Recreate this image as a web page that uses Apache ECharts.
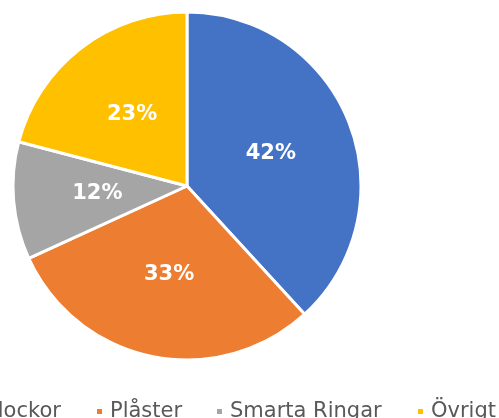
<!DOCTYPE html>
<html>
<head>
<meta charset="utf-8">
<script src="https://cdn.jsdelivr.net/npm/echarts@6/dist/echarts.min.js"></script>
<style>
  html, body { margin: 0; padding: 0; background: #fff; }
  #chart { width: 499px; height: 418px; }
</style>
</head>
<body>
<div id="chart"></div>
<script>
// kategorier och andelar (%)
const categories = ["Klockor", "Plåster", "Smarta Ringar", "Övrigt"];
const shares = [42, 33, 12, 23];
const colors = ["#4472C4", "#ED7D31", "#A5A5A5", "#FFC000"];

// legend x-positions, one legend per item so they line up with the original
const legendLeft = [-36, 90, 210, 411];

let chart = echarts.init(document.getElementById("chart"));

let legends = [];
for (let i = 0; i < categories.length; i++) {
  legends.push({
    data: [categories[i]],
    left: legendLeft[i],
    top: 396,
    icon: "rect",
    itemWidth: 7,
    itemHeight: 7,
    textStyle: {
      fontFamily: "DejaVu Sans",
      fontSize: 21,
      color: "#595959",
      padding: [0, 0, 0, 2]
    }
  });
}

let option = {
  color: colors,
  animation: false,
  legend: legends,
  series: [
    {
      type: "pie",
      center: [187, 186],
      radius: 174,
      startAngle: 90,
      clockwise: true,
      itemStyle: {
        borderColor: "#fff",
        borderWidth: 3
      },
      label: {
        position: "inside",
        formatter: "{c}%",
        color: "#fff",
        fontFamily: "DejaVu Sans",
        fontWeight: "bold",
        fontSize: 21
      },
      labelLine: { show: false },
      data: categories.map((c, i) => ({ name: c, value: shares[i] }))
    }
  ]
};

chart.setOption(option);
</script>
</body>
</html>
